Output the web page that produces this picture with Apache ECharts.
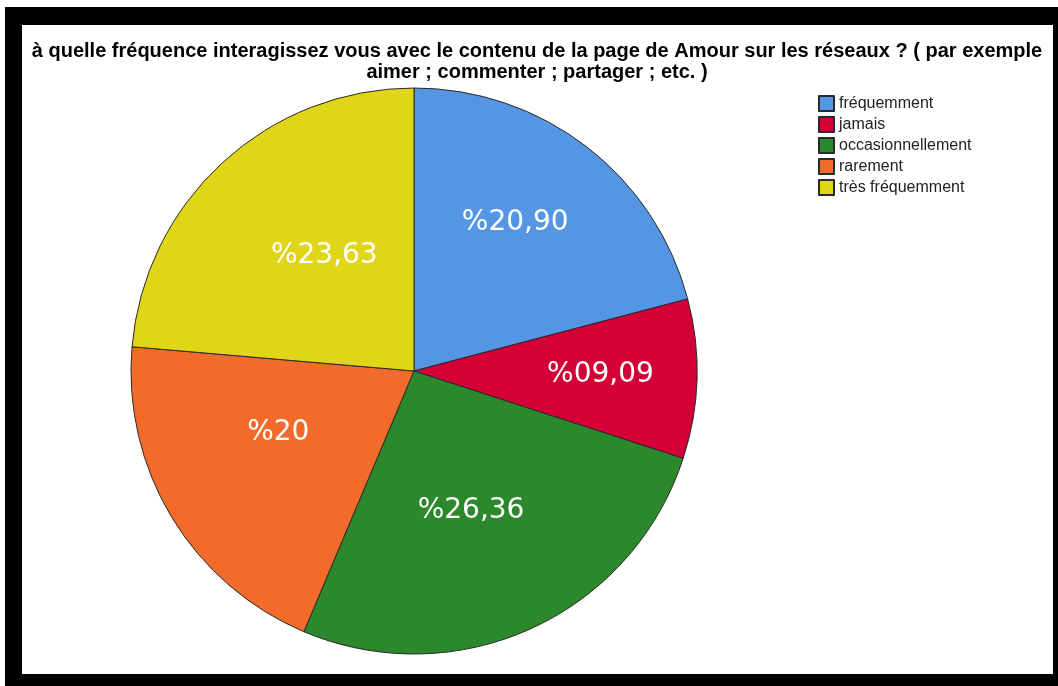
<!DOCTYPE html>
<html>
<head>
<meta charset="utf-8">
<script src="https://cdn.jsdelivr.net/npm/echarts@6/dist/echarts.min.js"></script>
<style>
  html, body { margin: 0; padding: 0; background: #fff; width: 1058px; height: 686px; overflow: hidden; }
  #frame { position: absolute; left: 5px; top: 7px; width: 1053px; height: 679px; background: #000; }
  #chart { position: absolute; left: 22px; top: 25px; width: 1031px; height: 649px; background: #fff; }
</style>
</head>
<body>
<div id="frame"></div>
<div id="chart"></div>
<script>
// Survey answers and their shares (percent)
const categories = ['fréquemment', 'jamais', 'occasionnellement', 'rarement', 'très fréquemment'];
const percentages = [20.90, 9.09, 26.36, 20, 23.63];
const sliceColors = ['#5596E4', '#D40035', '#2B882B', '#F26B2B', '#E0D517'];
// Small nudges so each value label sits where it reads best inside its slice
const labelOffsets = [[13, -34], [42, 0], [-3, 8], [-12, -13], [8, -9]];

const titleText = 'à quelle fréquence interagissez vous avec le contenu de la page de Amour sur les réseaux ? ( par exemple\naimer ; commenter ; partager ; etc. )';

// "%20,90" style: two-digit integer part, comma decimal, no ",00"
function formatPercent(v) {
  let s = v.toFixed(2);
  if (s.endsWith('.00')) s = s.slice(0, -3);
  const parts = s.split('.');
  parts[0] = parts[0].padStart(2, '0');
  return '%' + parts.join(',');
}

const chart = echarts.init(document.getElementById('chart'), null, { renderer: 'canvas' });

chart.setOption({
  animation: false,
  backgroundColor: '#fff',
  title: {
    text: titleText,
    left: 515,
    top: 16,
    textAlign: 'center',
    padding: 0,
    textStyle: {
      fontFamily: 'Liberation Sans, Arial, sans-serif',
      fontWeight: 'bold',
      fontSize: 20,
      lineHeight: 21,
      color: '#000'
    }
  },
  legend: {
    orient: 'vertical',
    left: 796,
    top: 70,
    padding: 0,
    itemWidth: 15,
    itemHeight: 15,
    itemGap: 4,
    icon: 'rect',
    selectedMode: false,
    textStyle: {
      fontFamily: 'Liberation Sans, Arial, sans-serif',
      fontSize: 16,
      lineHeight: 15,
      color: '#222'
    },
    data: categories
  },
  series: [{
    type: 'pie',
    center: [392, 346],
    radius: 283,
    startAngle: 90,
    clockwise: true,
    avoidLabelOverlap: false,
    silent: true,
    itemStyle: { borderColor: '#2a2a2a', borderWidth: 1 },
    label: {
      show: true,
      position: 'inside',
      color: '#fff',
      fontFamily: 'DejaVu Sans, sans-serif',
      fontSize: 28,
      formatter: p => formatPercent(p.value)
    },
    labelLine: { show: false },
    emphasis: { disabled: true },
    data: categories.map((name, i) => ({
      name: name,
      value: percentages[i],
      itemStyle: { color: sliceColors[i] },
      label: { offset: labelOffsets[i] }
    }))
  }]
});
</script>
</body>
</html>
